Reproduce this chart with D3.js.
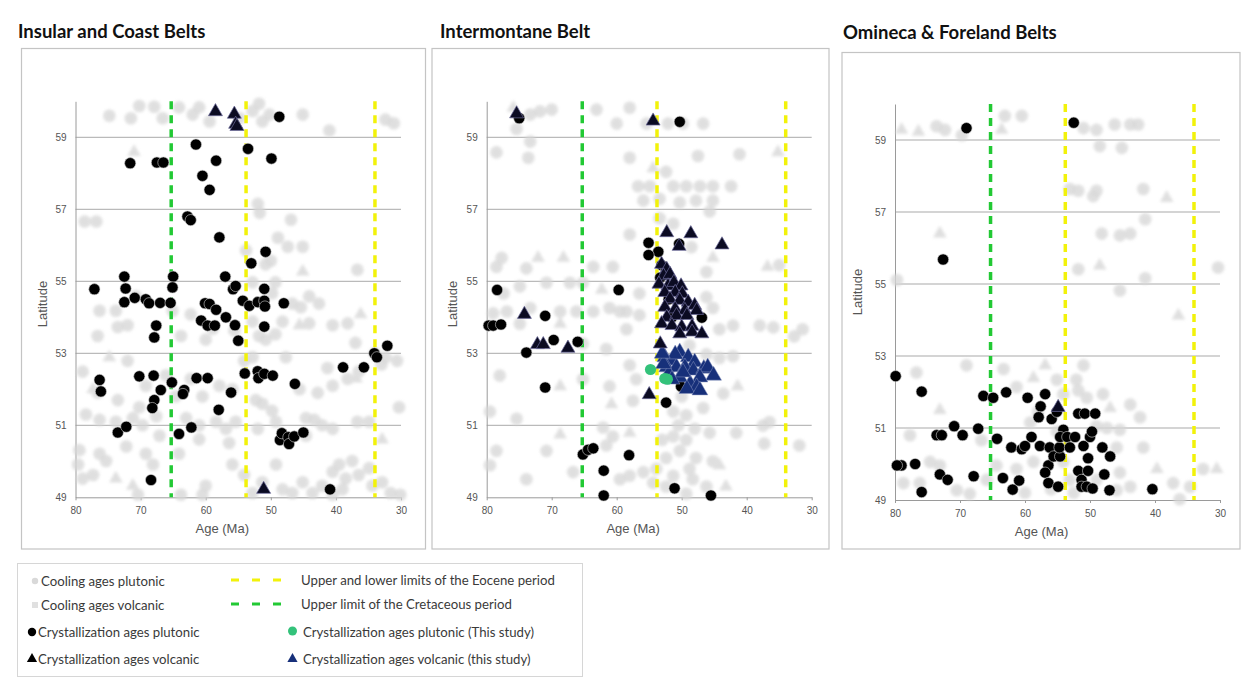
<!DOCTYPE html>
<html><head><meta charset="utf-8">
<script src="https://cdn.jsdelivr.net/npm/d3@7"></script>
<style>body{margin:0;background:#fff}svg{display:block}</style>
</head><body>
<svg id="fig" width="1247" height="679"></svg>
<script>
// ---- tick labels ----
const ageTicks = [80, 70, 60, 50, 40, 30];
const latTicks = [49, 51, 53, 55, 57, 59];
// period boundaries (Ma)
const cretaceousTop = [65.3];
const eoceneLimits = [53.8, 34.0];

// ---- Insular and Coast Belts: [age Ma, latitude] ----
const coolPlut1 = [[74.8,59.6],[71.5,59.53],[70.2,59.87],[67.9,59.85],[66.6,59.53],[64.1,59.83],[62.0,59.63],[61.0,59.83],[59.4,59.44],[54.8,59.53],[52.8,59.73],[51.8,59.93],[50.2,59.63],[51.3,59.44],[45.1,59.63],[41.0,59.19],[32.4,59.49],[31.1,59.39],
[78.6,56.66],[76.8,56.66],[52.0,57.15],[51.7,56.9],[46.9,56.71],[48.9,56.21],[47.4,55.96],[45.1,55.96],[50.0,55.57],[50.8,55.47],[36.7,55.32],[52.8,54.97],[49.3,54.97],[53.8,55.86],
[76.3,54.18],[73.8,54.18],[70.7,54.58],[76.6,53.48],[73.5,53.73],[72.0,53.78],[65.1,54.18],[63.8,53.48],[62.3,54.08],[60.0,53.38],[58.9,53.68],[55.6,53.63],[52.8,53.88],[51.8,53.48],[50.8,53.38],[49.3,53.53],[49.8,54.67],[48.2,53.88],[46.7,54.38],[45.4,54.28],[44.1,54.58],[42.6,54.38],[44.1,53.83],[40.5,53.78],[38.2,53.83],[37.0,53.29],[34.0,52.99],[32.4,52.89],[30.6,52.79],
[78.9,52.49],[76.6,51.9],[72.0,52.79],[73.5,51.7],[70.2,51.5],[69.2,52.1],[66.1,52.39],[64.6,51.8],[62.3,52.29],[60.5,51.8],[57.9,52.1],[55.9,52.0],[54.1,52.79],[52.8,52.89],[52.3,51.7],[51.3,51.6],[49.8,51.4],[47.7,52.89],[45.6,52.0],[42.8,51.9],[41.3,52.59],[40.5,52.1],[38.2,52.29],[36.5,52.49],[30.3,51.5],[33.0,52.69],
[78.4,51.3],[76.3,51.15],[73.8,51.1],[71.2,51.2],[69.7,51.0],[67.6,51.25],[63.0,51.2],[61.0,51.0],[58.4,51.1],[56.9,50.9],[55.4,51.1],[52.0,50.9],[49.2,51.1],[44.6,51.2],[43.3,51.15],[42.1,51.0],[40.5,50.9],[36.7,51.1],[34.9,51.1],
[79.4,50.31],[79.6,49.91],[78.9,49.52],[77.3,49.62],[76.3,50.21],[75.3,50.01],[72.2,50.41],[70.4,49.07],[69.2,50.21],[68.1,49.91],[67.1,50.71],[64.1,50.21],[63.8,49.07],[60.5,49.07],[60.0,49.32],[61.0,50.61],[56.4,50.51],[55.9,49.91],[54.1,49.62],[52.8,49.12],[51.3,49.42],[49.2,49.91],[48.2,49.22],[46.7,49.12],[45.1,49.42],[43.6,49.12],[42.1,49.32],[40.5,49.71],[39.5,49.91],[38.5,49.52],[37.5,50.01],[36.5,49.62],[34.9,49.81],[34.4,49.32],[32.9,49.42],[31.6,49.12],[30.1,49.07],[39.0,49.22],[40.5,49.07],[44.6,50.71]];
const coolVolc1 = [[71.0,58.59],[45.1,55.27],[74.8,52.89],[45.6,53.78],[36.2,54.08],[32.9,50.6],[73.8,49.52],[71.2,49.32],[77.3,52.0],[36.9,52.3]];
const crystPlut1 = [[77.1,54.78],[72.5,55.13],[72.3,54.8],[71.6,58.28],[67.5,58.3],[66.5,58.3],[65.0,55.13],[65.1,54.83],[62.8,56.8],[62.3,56.7],[61.5,58.8],[60.5,57.93],[59.4,57.54],[58.4,58.35],[57.9,56.22],[57.0,55.13],[55.8,54.78],[55.4,54.87],[53.5,58.68],[53.0,55.5],[50.8,55.82],[49.9,58.41],[48.7,59.57],[51.0,54.79],
[72.5,54.42],[70.9,54.54],[69.2,54.5],[68.7,54.39],[67.0,54.4],[65.4,54.4],[67.6,53.77],[67.9,53.44],[76.3,52.26],[76.1,51.94],[73.5,50.8],[72.2,50.96],[70.2,52.36],[68.0,52.38],[66.9,51.98],[67.9,51.7],[68.2,51.48],[68.4,49.48],[65.2,52.19],[64.1,50.76],[63.3,51.98],[63.5,51.87],[62.2,50.94],[61.4,52.31],[60.7,53.91],[59.7,53.77],[60.1,54.39],[59.4,54.37],[59.7,52.31],[58.6,53.77],[58.4,54.21],[58.0,51.43],[56.9,54.0],[56.1,51.91],[55.5,53.78],[55.0,53.35],[54.3,54.46],[53.3,54.32],[54.0,52.44],[52.0,52.5],[51.9,52.31],[51.0,52.43],[52.0,54.42],[51.0,54.46],[50.9,54.3],[51.0,53.74],[49.7,52.38],[48.0,54.39],[46.3,52.15],[48.6,50.59],[48.3,50.78],[47.3,50.67],[47.2,50.48],[46.4,50.69],[45.0,50.8],[40.9,49.22],[38.9,52.61],[35.7,52.61],[34.1,53.0],[33.7,52.89],[32.1,53.21]];
const crystVolc1 = [[58.5,59.74],[55.6,59.67],[55.4,59.39],[55.2,59.33],[51.1,49.25]];

// ---- Intermontane Belt ----
const coolPlut2 = [[73.3,59.63],[71.8,59.72],[70.0,59.77],[75.4,59.23],[73.3,58.88],[78.5,58.58],[73.6,58.43],[63.1,59.77],[60.0,59.38],[58.0,59.82],[55.4,59.38],[52.1,59.38],[49.8,59.38],[46.7,59.38],[47.5,58.48],[41.1,58.53],[58.0,58.43],[52.4,58.04],[56.7,57.64],[54.9,57.64],[51.3,57.64],[49.3,57.64],[47.2,57.64],[45.2,57.64],[42.4,57.64],[55.9,57.24],[53.4,57.29],[50.3,57.19],[47.8,57.24],[45.2,57.24],[45.7,56.94],[58.0,56.3],[53.4,56.75],[51.3,56.6],[48.5,55.95],[35.0,55.45],
[78.5,55.4],[77.7,55.65],[73.9,55.36],[70.8,54.96],[67.2,54.96],[65.2,54.96],[63.6,55.4],[60.6,55.4],[77.4,54.66],[74.9,54.86],[79.0,54.11],[76.9,54.16],[73.3,54.26],[68.7,54.16],[66.2,54.16],[63.6,54.16],[61.1,54.26],[58.5,54.16],[56.5,54.66],[56.5,54.06],[59.5,54.16],[46.2,55.26],[46.2,54.56],[45.2,54.26],[44.2,53.67],[42.1,53.77],[38.0,53.77],[35.9,53.72],[32.7,53.47],[31.4,53.67],[74.9,53.82],[65.2,53.27],[61.6,53.12],[58.5,53.67],[48.8,53.22],[46.2,52.97],[44.2,52.87],[42.1,52.92],
[78.0,52.38],[65.2,52.28],[61.1,52.08],[58.0,52.67],[57.0,52.28],[57.5,51.68],[79.5,51.38],[75.4,51.18],[62.1,50.94],[60.6,50.69],[51.3,51.38],[49.3,51.28],[46.7,51.48],[43.6,51.88],[37.5,50.99],[36.5,51.09],[45.7,50.79],[41.6,50.79],[51.3,50.69],[49.3,50.59],[50.3,50.29],[52.4,50.09],[47.8,50.09],[48.8,49.79],[51.3,49.6],[53.9,49.79],[55.9,49.7],[58.0,49.6],[59.5,49.5],[54.4,49.4],[48.3,49.5],[46.2,49.3],[45.2,50.0],[61.6,50.44],[78.5,50.29],[70.8,50.29],[66.7,49.7],[73.9,49.5],[79.5,49.89],[31.9,50.44],[37.3,50.49],[49.3,49.1],[52.4,49.3],[50.5,51.0],[48.0,50.9],[53.0,50.6],[50.0,51.8]];
const coolVolc2 = [[75.9,59.82],[35.2,58.58],[54.4,58.14],[45.2,55.65],[36.8,55.4],[72.1,55.65],[68.2,55.65],[62.3,54.76],[68.7,53.82],[51.3,53.97],[68.7,52.08],[60.8,51.58],[68.7,50.74],[58.0,50.79],[41.4,52.08],[44.2,49.89],[43.2,49.3]];
const crystPlut2 = [[75.0,59.53],[50.3,59.43],[78.4,54.76],[79.7,53.77],[79.0,53.77],[77.8,53.8],[71.0,54.04],[73.9,53.02],[69.7,53.37],[66.0,53.32],[71.0,52.05],[59.7,54.76],[65.2,50.19],[64.4,50.32],[63.6,50.36],[58.1,50.17],[62.0,49.74],[62.0,49.05],[51.1,49.25],[45.5,49.05],[52.4,51.63],[50.1,52.08],[55.1,56.07],[53.6,55.82],[55.1,55.73],[50.4,56.04],[46.9,53.99],[53.1,55.45],[52.4,55.3],[53.3,55.1],[52.0,54.5],[51.5,54.0]];
const crystVolc2 = [[75.4,59.68],[54.4,59.48],[74.2,54.11],[72.2,53.27],[71.3,53.27],[67.5,53.17],[55.0,51.88],[52.3,56.38],[48.6,56.35],[43.8,56.04],[50.4,56.0],
[53.1,55.5],[52.3,55.36],[52.8,55.18],[51.8,55.22],[53.5,54.95],[52.1,54.9],[51.2,55.0],[50.1,54.9],[52.6,54.72],[51.0,54.72],[49.9,54.68],[51.8,54.54],[50.3,54.5],[49.0,54.45],[48.0,54.36],[52.6,54.31],[51.0,54.26],[49.5,54.22],[47.7,54.22],[52.3,54.03],[50.8,54.08],[49.2,54.08],[53.1,53.85],[51.5,53.8],[50.0,53.76],[48.4,53.78],[50.3,53.57],[48.4,53.62],[46.9,53.57],[53.3,53.29]];
const studyPlut2 = [[54.8,52.55],[52.6,52.3],[52.2,52.28]];
const studyVolc2 = [[52.6,52.92],[51.5,52.83],[50.3,53.06],[49.0,52.92],[48.0,52.78],[52.3,52.64],[50.8,52.64],[49.5,52.64],[48.2,52.55],[46.6,52.6],[46.0,52.64],[45.1,52.41],[52.0,52.46],[50.3,52.36],[47.2,52.36],[48.7,52.18],[47.7,52.09],[49.2,52.04],[47.2,52.0],[52.8,52.73],[51.0,53.0],[53.0,53.02],[49.8,52.5],[51.5,52.3]];

// ---- Omineca & Foreland Belts ----
const coolPlut3 = [[73.6,59.38],[72.3,59.28],[69.7,59.13],[63.1,59.67],[60.5,59.67],[51.0,59.33],[49.0,59.28],[46.2,59.43],[43.8,59.43],[42.6,59.43],[48.5,58.83],[45.1,58.78],[53.1,57.64],[51.8,57.59],[49.5,57.44],[49.0,57.59],[41.8,57.64],[41.5,56.8],[48.2,56.4],[45.4,56.35],[43.8,56.4],[51.8,55.41],[30.3,55.46],[79.7,55.11],[45.4,54.82],[41.5,55.16],
[76.7,52.54],[69.0,52.74],[77.7,50.8],[63.3,52.64],[55.1,52.34],[52.1,52.34],[51.0,52.74],[51.8,52.04],[54.1,51.94],[50.5,51.84],[43.8,51.65],[42.3,51.3],[45.4,50.95],[47.4,51.0],[45.9,50.46],[41.8,50.46],[32.6,49.86],[37.2,49.47],[36.2,49.02],[34.6,49.37],[43.8,49.37],[45.4,49.76],[45.9,49.27],[49.0,49.56],[53.1,49.56],[54.1,50.06],[58.7,50.06],[61.3,49.86],[64.4,49.96],[65.9,49.56],[68.5,49.17],[70.5,49.27],[73.1,49.96],[74.6,50.06],[78.7,49.47],[76.2,49.47],[66.7,50.66],[59.2,51.15],[61.3,52.14],[58.0,51.45],[55.1,50.9],[49.0,51.05],[48.0,51.94],[52.5,49.2],[56.0,49.3],[60.0,49.2]];
const coolVolc3 = [[79.0,59.28],[76.4,59.23],[63.6,59.28],[38.2,57.39],[73.1,56.4],[48.5,55.51],[36.4,54.12],[73.1,51.5],[58.7,52.39],[56.9,52.74],[46.9,51.55],[39.7,49.86],[30.5,49.86]];
const crystPlut3 = [[69.0,59.33],[52.5,59.48],[72.6,55.68],[79.9,52.44],[75.9,52.01],[79.0,49.96],[79.7,49.96],[76.9,50.0],[75.9,49.22],[73.6,50.8],[72.8,50.8],[70.9,51.05],[69.6,50.8],[67.2,50.98],[73.1,49.71],[71.9,49.56],[67.9,49.66],[66.4,51.89],[64.9,51.84],[64.3,50.7],[62.9,51.99],[62.1,50.46],[63.4,49.61],[61.9,49.29],[60.9,49.54],[60.5,50.41],[60.0,50.5],[59.6,51.84],[59.0,50.75],[57.7,50.5],[56.9,51.94],[57.6,51.6],[57.9,51.3],[55.9,51.25],[55.1,51.45],[56.2,50.46],[56.4,49.96],[56.9,49.76],[56.4,49.47],[54.9,49.37],[55.6,50.21],[54.6,50.21],[54.7,50.46],[54.1,50.95],[54.6,50.75],[53.5,50.75],[53.1,50.46],[52.3,50.75],[51.8,51.4],[50.8,51.4],[49.2,51.4],[51.0,50.5],[51.8,49.81],[51.3,49.56],[51.3,49.37],[50.5,49.37],[49.6,49.32],[50.3,50.16],[50.3,49.81],[50.0,50.75],[49.7,50.9],[48.1,50.46],[47.8,49.71],[46.9,50.21],[47.0,49.27],[40.4,49.3]];
const crystVolc3 = [[54.9,51.6]];

// ---- layout of the three panels ----
const panels = [
  {title:"Insular and Coast Belts", tx:18, ty:38, frame:[21.5,48.5,404,500.5], xr:[75.5,401], yr:[497.3,101.3], latX:43, latY:304, ageY:533,
   cp:coolPlut1, cv:coolVolc1, xp:crystPlut1, xv:crystVolc1, sp:[], sv:[]},
  {title:"Intermontane Belt", tx:440, ty:38, frame:[432,48.5,397,500.5], xr:[486.7,811.7], yr:[497.3,101.3], latX:453, latY:304, ageY:533,
   cp:coolPlut2, cv:coolVolc2, xp:crystPlut2, xv:crystVolc2, sp:studyPlut2, sv:studyVolc2},
  {title:"Omineca & Foreland Belts", tx:843, ty:39, frame:[842,52.5,398,496.5], xr:[895,1220], yr:[500,104], latX:858, latY:292, ageY:536,
   cp:coolPlut3, cv:coolVolc3, xp:crystPlut3, xv:crystVolc3, sp:[], sv:[]}
];

const svg = d3.select("#fig");
const defs = svg.append("defs");
defs.append("filter").attr("id","soft").attr("x","-20%").attr("y","-20%").attr("width","140%").attr("height","140%")
  .append("feGaussianBlur").attr("stdDeviation",1.7);

const tri = (s) => d3.symbol(d3.symbolTriangle, s)();
const GRAY = "#d6d6d6", GRAYV = "#dcdcdc", NAVY = "#17307a", GREEN = "#33c27a";

panels.forEach(p => {
  const x = d3.scaleLinear().domain([80,30]).range(p.xr);
  const y = d3.scaleLinear().domain([49,60]).range(p.yr);
  const g = svg.append("g");

  g.append("rect").attr("x",p.frame[0]).attr("y",p.frame[1]).attr("width",p.frame[2]).attr("height",p.frame[3])
    .attr("fill","#fff").attr("stroke","#c4c4c4").attr("stroke-width",1.2);

  g.append("text").attr("x",p.tx).attr("y",p.ty).text(p.title)
    .attr("font-family","Lato, 'Open Sans', sans-serif").attr("font-weight","bold").attr("font-size",18.5).attr("fill","#111");

  // gridlines
  g.append("g").selectAll("line").data(latTicks.filter(v=>v>49)).join("line")
    .attr("x1",p.xr[0]).attr("x2",p.xr[1]).attr("y1",d=>y(d)).attr("y2",d=>y(d))
    .attr("stroke","#a9a9a9").attr("stroke-width",1);

  // axes
  const ax = g.append("g").attr("transform",`translate(0,${y(49)})`)
    .call(d3.axisBottom(x).tickValues(ageTicks).tickSize(3).tickPadding(7).tickSizeOuter(0));
  const ay = g.append("g").attr("transform",`translate(${x(80)},0)`)
    .call(d3.axisLeft(y).tickValues(latTicks).tickSize(0).tickPadding(9).tickSizeOuter(0));
  [ax, ay].forEach(a => {
    a.select(".domain").attr("stroke","#9a9a9a");
    a.selectAll(".tick line").attr("stroke","#9a9a9a");
    a.selectAll("text").attr("font-family","'Liberation Sans', Arial, sans-serif").attr("font-size",10).attr("fill","#555");
  });

  g.append("text").attr("x",(p.xr[0]+p.xr[1])/2 - 16).attr("y",p.ageY).attr("text-anchor","middle").text("Age (Ma)")
    .attr("font-family","'Liberation Sans', Arial, sans-serif").attr("font-size",13).attr("fill","#555");
  g.append("text").attr("transform",`translate(${p.latX + 4},${p.latY}) rotate(-90)`).attr("text-anchor","middle").text("Latitude")
    .attr("font-family","'Liberation Sans', Arial, sans-serif").attr("font-size",13).attr("fill","#555");

  // cooling ages (soft gray)
  const cool = g.append("g").attr("filter","url(#soft)").attr("opacity",0.9);
  cool.selectAll("circle").data(p.cp).join("circle")
    .attr("cx",d=>x(d[0])).attr("cy",d=>y(d[1])).attr("r",6.3).attr("fill",GRAY).attr("fill-opacity",0.85);
  cool.selectAll("path").data(p.cv).join("path")
    .attr("d",tri(80)).attr("transform",d=>`translate(${x(d[0])},${y(d[1])})`).attr("fill",GRAYV);

  // period boundaries
  const vl = (v,c) => g.append("line").attr("x1",x(v)).attr("x2",x(v)).attr("y1",y(60)).attr("y2",y(49))
    .attr("stroke",c).attr("stroke-width",3.5).attr("stroke-dasharray","8,6");
  cretaceousTop.forEach(v => vl(v,"#22c934"));
  eoceneLimits.forEach(v => vl(v,"#f2f20a"));

  // crystallization ages
  g.append("g").selectAll("circle").data(p.xp).join("circle")
    .attr("cx",d=>x(d[0])).attr("cy",d=>y(d[1])).attr("r",5.6).attr("fill","#000").attr("stroke","#cfcfcf").attr("stroke-width",0.6);
  g.append("g").selectAll("path").data(p.sv).join("path")
    .attr("d",tri(110)).attr("transform",d=>`translate(${x(d[0])},${y(d[1])+1})`).attr("fill",NAVY).attr("stroke","#8a97c0").attr("stroke-width",0.5);
  g.append("g").selectAll("path").data(p.xv).join("path")
    .attr("d",tri(85)).attr("transform",d=>`translate(${x(d[0])},${y(d[1])+1})`).attr("fill","#0b0b22").attr("stroke","#6d6c9c").attr("stroke-width",0.7);
  g.append("g").selectAll("circle").data(p.sp).join("circle")
    .attr("cx",d=>x(d[0])).attr("cy",d=>y(d[1])).attr("r",5.6).attr("fill",GREEN);
});

// ---- legend ----
const lg = svg.append("g");
lg.append("rect").attr("x",17.5).attr("y",563.5).attr("width",565).attr("height",113)
  .attr("fill","#fff").attr("stroke","#d6d6d6");
const lf = {family:"Lato, 'Open Sans', sans-serif", size:13.2};
const ltext = (tx, ty, t) => lg.append("text").attr("x",tx).attr("y",ty+4.5).text(t)
  .attr("font-family",lf.family).attr("font-size",lf.size).attr("fill","#3a3a3a");
lg.append("circle").attr("cx",35).attr("cy",581).attr("r",3.2).attr("fill","#d9d9d9");
ltext(41,581,"Cooling ages plutonic");
lg.append("rect").attr("x",32).attr("y",602).attr("width",6).attr("height",6).attr("fill","#e0e0e0");
ltext(41,605,"Cooling ages volcanic");
lg.append("circle").attr("cx",32).attr("cy",632).attr("r",4.2).attr("fill","#000");
ltext(38,632,"Crystallization ages plutonic");
lg.append("path").attr("d",tri(45)).attr("transform","translate(32,659)").attr("fill","#000");
ltext(38,659,"Crystallization ages volcanic");
lg.append("line").attr("x1",231).attr("x2",283).attr("y1",580).attr("y2",580).attr("stroke","#f2f20a").attr("stroke-width",3).attr("stroke-dasharray","8,13");
ltext(301,580,"Upper and lower limits of the Eocene period");
lg.append("line").attr("x1",231).attr("x2",283).attr("y1",604).attr("y2",604).attr("stroke","#22c934").attr("stroke-width",3).attr("stroke-dasharray","8,13");
ltext(301,604,"Upper limit of the Cretaceous period");
lg.append("circle").attr("cx",292.5).attr("cy",631).attr("r",4.5).attr("fill",GREEN);
ltext(303,632,"Crystallization ages plutonic (This study)");
lg.append("path").attr("d",tri(45)).attr("transform","translate(292.5,659)").attr("fill",NAVY);
ltext(303,659,"Crystallization ages volcanic (this study)");
</script>
</body></html>
